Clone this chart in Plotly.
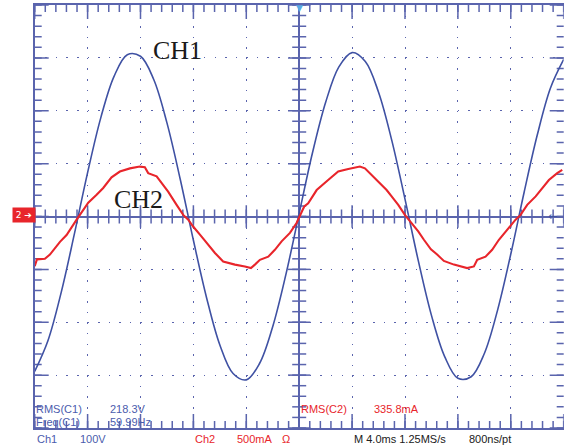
import plotly.graph_objects as go

W, H = 564, 447

# Channel 1: line voltage, sampled every 1 ms (V)
ch1_t = list(range(-20, 21))
ch1_v = [-293, -235, -144, -33, 83, 187, 265, 306, 303, 259, 177, 71,
         -45, -154, -243, -297, -309, -278, -208, -109, 6, 120, 216, 283,
         310, 293, 235, 144, 33, -83, -187, -265, -306, -303, -259, -177,
         -71, 45, 154, 243, 297]

# Channel 2: load current (mA)
ch2_t = [-20.0, -19.83, -19.23, -18.85, -18.09, -17.59, -16.83, -16.58, -15.95,
         -15.32, -14.82, -14.19, -13.56, -12.80, -12.05, -11.67, -11.42, -10.78,
         -10.28, -9.91, -9.27, -8.77, -8.39, -8.02, -7.38, -6.88, -6.37, -5.75,
         -4.86, -4.11, -3.65, -3.35, -2.97, -2.34, -1.84, -1.33, -0.70, -0.20,
         0.05, 0.38, 0.68, 1.32, 2.19, 2.95, 3.71, 4.59, 4.97, 5.47, 6.10, 6.61,
         6.99, 7.49, 7.99, 8.37, 9.00, 9.43, 9.96, 10.43, 10.94, 11.70, 12.70,
         13.21, 13.46, 14.09, 14.59, 15.10, 15.73, 16.36, 16.74, 17.24, 17.88,
         18.37, 18.88, 19.51, 19.89]
ch2_i = [-470, -405, -400, -360, -240, -175, -30, 15, 130,
         205, 270, 370, 425, 455, 472, 465, 410, 380,
         300, 235, 110, 15, -30, -95, -190, -265, -345, -425,
         -455, -472, -488, -455, -410, -380, -315, -235, -155, -62,
         0, 95, 125, 250, 345, 425, 450, 472, 455, 395, 315, 250,
         190, 110, 15, -45, -140, -220, -310, -360, -420, -455, -488,
         -472, -410, -380, -315, -220, -125, -30, 15, 110, 190,
         270, 345, 410, 440]

# Readout texts
readouts_blue = [("RMS(C1)", 34, 409), ("218.3V", 108, 409),
                 ("Freq(C1)", 34, 422), ("59.99Hz", 108, 422),
                 ("Ch1", 35, 439), ("100V", 78, 439)]
readouts_red = [("RMS(C2)", 299, 409), ("335.8mA", 372, 409),
                ("Ch2", 193, 439), ("500mA", 235, 439), ("Ω", 280, 439)]
readouts_black = [("M 4.0ms 1.25MS/s", 352, 439), ("800ns/pt", 467, 439)]

BLUE = "#3f51a3"
FRAME = "#5a64ad"
RED = "#e8252b"

X_HALF, Y_HALF = 20, 400       # screen half-widths: 5 div x 4 ms, 4 div x 100 V
X_DIV, Y_DIV = 4, 100          # ms/div, V/div
SUB = 5                        # graticule marks per division


def px(x):
    return x / W


def py(y):
    return 1 - y / H


xdom = [px(34.7), px(563.7)]
ydom = [py(428), py(5)]

fig = go.Figure()

# graticule tick marks (fifth-division and division marks)
n_x = int(2 * X_HALF / X_DIV * SUB)
n_y = int(2 * Y_HALF / Y_DIV * SUB)
xs_minor = [-X_HALF + k * X_DIV / SUB for k in range(n_x + 1)]
ys_minor = [-Y_HALF + k * Y_DIV / SUB for k in range(n_y + 1)]
xs_major = xs_minor[::SUB]
ys_major = ys_minor[::SUB]


def marks(xs, ys, symbol, size):
    fig.add_trace(go.Scatter(
        x=xs, y=ys, mode="markers", hoverinfo="skip", cliponaxis=True,
        marker=dict(symbol=symbol, size=size,
                    line=dict(color=FRAME, width=1.5))))


for yy in (-Y_HALF, Y_HALF):               # bottom / top edges
    marks(xs_minor, [yy] * len(xs_minor), "line-ns", 10)
    marks(xs_major, [yy] * len(xs_major), "line-ns", 20)
marks(xs_minor, [0] * len(xs_minor), "line-ns", 10)   # centre row
marks(xs_major, [0] * len(xs_major), "line-ns", 16)
for xx in (-X_HALF, X_HALF):               # left / right edges
    marks([xx] * len(ys_minor), ys_minor, "line-ew", 10)
    marks([xx] * len(ys_major), ys_major, "line-ew", 20)
marks([0] * len(ys_minor), ys_minor, "line-ew", 10)   # centre column
marks([0] * len(ys_major), ys_major, "line-ew", 16)

fig.add_trace(go.Scatter(x=ch2_t, y=ch2_i, yaxis="y2", mode="lines",
                         line=dict(color=RED, width=2.1), hoverinfo="skip"))
fig.add_trace(go.Scatter(x=ch1_t, y=ch1_v, mode="lines",
                         line=dict(color=BLUE, width=1.6, shape="spline"),
                         hoverinfo="skip"))

dots = "1.5px,9.08px"
common = dict(showline=True, mirror=True, linecolor=FRAME, linewidth=1.6,
              ticks="", showticklabels=False, zeroline=True,
              zerolinecolor=FRAME, zerolinewidth=1.6, showgrid=True,
              gridcolor=FRAME, gridwidth=1.3, griddash=dots, fixedrange=True)

ann = []
ann.append(dict(text="CH1", xref="paper", yref="paper", x=px(151), y=py(51),
                xanchor="left", yanchor="middle", showarrow=False,
                font=dict(family="Liberation Serif", size=26, color="#1a1a1a")))
ann.append(dict(text="CH2", xref="paper", yref="paper", x=px(111.5), y=py(199),
                xanchor="left", yanchor="middle", showarrow=False,
                font=dict(family="Liberation Serif", size=26, color="#1a1a1a")))
ann.append(dict(text="2 ➔", xref="paper", yref="paper", x=px(12), y=py(215.5),
                xanchor="left", yanchor="middle", showarrow=False,
                bgcolor=RED, borderpad=1, width=20, height=12,
                font=dict(family="DejaVu Sans", size=9, color="white")))
ann.append(dict(text="▼", xref="paper", yref="paper", x=px(299.3), y=py(8),
                xanchor="center", yanchor="middle", showarrow=False,
                font=dict(family="DejaVu Sans", size=9, color="#5aa9e2")))
ann.append(dict(text="←", xref="paper", yref="paper", x=px(552), y=py(216),
                xanchor="center", yanchor="middle", showarrow=False,
                font=dict(family="DejaVu Sans", size=11, color=BLUE)))

for group, color in ((readouts_blue, "#4b5cad"), (readouts_red, RED),
                     (readouts_black, "#202020")):
    for txt, x, y in group:
        ann.append(dict(text=txt, xref="paper", yref="paper", x=px(x), y=py(y),
                        xanchor="left", yanchor="middle", showarrow=False,
                        font=dict(family="Liberation Sans", size=11, color=color)))

fig.update_layout(
    width=W, height=H, autosize=False,
    margin=dict(l=0, r=0, t=0, b=0),
    paper_bgcolor="white", plot_bgcolor="white",
    showlegend=False,
    xaxis=dict(range=[-X_HALF, X_HALF], domain=xdom, dtick=X_DIV, tick0=0,
               **common),
    yaxis=dict(range=[-Y_HALF, Y_HALF], domain=ydom, dtick=Y_DIV, tick0=0,
               **common),
    # current channel scale: 500 mA/div, same screen
    yaxis2=dict(range=[-2000, 2000], overlaying="y", anchor="x",
                visible=False, fixedrange=True),
    annotations=ann,
)

fig.write_html("out.html", config=dict(displayModeBar=False))
